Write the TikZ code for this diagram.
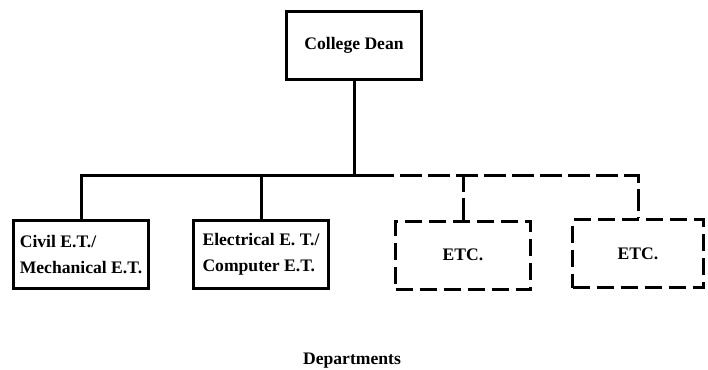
\documentclass[tikz,border=0pt]{standalone}
\usepackage{fontspec}
\setmainfont{Liberation Serif}
\usepackage{tikz}
\usetikzlibrary{positioning}
\tikzset{
  orgbox/.style = {
    rectangle,
    draw,
    line width=3pt,
    align=left,
    inner sep=0pt,
    font=\fontsize{17.6}{26}\selectfont\bfseries,
    minimum width=135pt,
    minimum height=68pt
  },
  etcbox/.style = {
    orgbox,
    align=center,
    dash pattern=on 17pt off 7pt
  },
  orgline/.style = {
    line width=3pt
  },
  etcline/.style = {
    line width=3pt,
    dash pattern=on 22pt off 6pt
  }
}
\begin{document}
\begin{tikzpicture}[x=1pt,y=-1pt]
    \useasboundingbox (0,0) rectangle (708,369);
    \node[orgbox, align=center] (dean) at (354,45.5) {College Dean};
    \node[orgbox] (civil) at (81,254.5) {Civil E.T./\\Mechanical E.T.};
    \node[orgbox] (elec) at (261,254) {Electrical E. T./\\Computer E.T.};
    \node[etcbox] (etca) at (463,255) {ETC.};
    \node[etcbox, minimum width=131pt] (etcb) at (638,253.5) {ETC.};
    \node[font=\fontsize{17.6}{26}\selectfont\bfseries] (dept) at (352,361) {Departments};
    \coordinate (bus) at (dean |- 0,175);
    \coordinate (split) at (372,175);
    \draw[orgline] (dean) -- (bus);
    \draw[orgline] (civil.north) |- (split);
    \draw[orgline] (elec.north) -- (elec |- bus);
    \draw[etcline] (split) -| (etcb.north);
    \draw[etcline] (etca.north) -- (etca |- bus);
  \end{tikzpicture}
\end{document}
